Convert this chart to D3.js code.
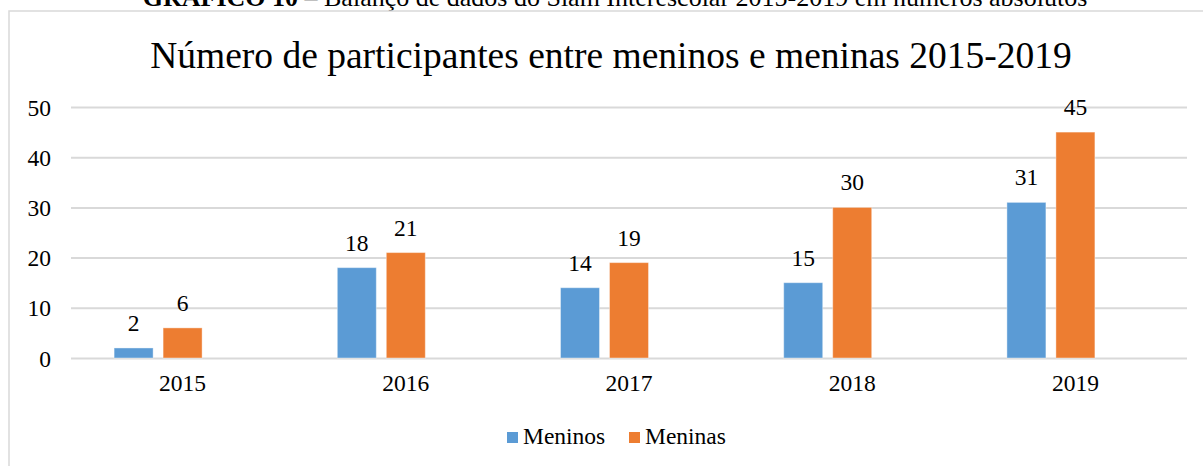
<!DOCTYPE html>
<html>
<head>
<meta charset="utf-8">
<script src="https://cdn.jsdelivr.net/npm/d3@7"></script>
<style>
  html, body { margin: 0; padding: 0; background: #fff; }
</style>
</head>
<body>
<div id="chart"></div>
<script>
const years = ['2015', '2016', '2017', '2018', '2019'];
const meninos = [2, 18, 14, 15, 31];
const meninas = [6, 21, 19, 30, 45];
const yTicks = [0, 10, 20, 30, 40, 50];
const seriesNames = ['Meninos', 'Meninas'];
const seriesColors = ['#5B9BD5', '#ED7D31'];

const FONT = "'Times New Roman', 'Liberation Serif', Times, serif";
const width = 1203;
const height = 466;
const margin = { left: 71, right: 16, top: 107, bot: 108 };
const innerW = width - margin.left - margin.right;
const innerH = height - margin.top - margin.bot;

const svg = d3.select('#chart')
  .append('svg')
  .attr('width', width)
  .attr('height', height)
  .attr('font-family', FONT);

// caption of the page, cut off at the top
const caption = svg.append('text')
  .attr('x', 615)
  .attr('y', 6)
  .attr('text-anchor', 'middle')
  .attr('font-size', 26);
caption.append('tspan').attr('font-weight', 'bold').text('GRÁFICO 10');
caption.append('tspan').text(' – Balanço de dados do Slam Interescolar 2015-2019 em números absolutos');

// chart frame
svg.append('rect')
  .attr('x', 9)
  .attr('y', 11)
  .attr('width', width)
  .attr('height', height)
  .attr('fill', 'none')
  .attr('stroke', '#d9d9d9')
  .attr('stroke-width', 1.5);

svg.append('text')
  .attr('x', 611)
  .attr('y', 68)
  .attr('text-anchor', 'middle')
  .attr('font-size', 37.5)
  .text('Número de participantes entre meninos e meninas 2015-2019');

const g = svg.append('g')
  .attr('transform', `translate(${margin.left}, ${margin.top})`);

const x0 = d3.scaleBand()
  .domain(years)
  .range([0, innerW]);

// third slot is empty, like the source chart
const x1 = d3.scaleBand()
  .domain(['Meninos', 'Meninas', '_'])
  .range([0, x0.bandwidth()])
  .paddingInner(0.204)
  .paddingOuter(0.88);

const y = d3.scaleLinear()
  .domain([0, 50])
  .range([innerH, 0]);

const yAxis = d3.axisLeft(y)
  .tickValues(yTicks)
  .tickSize(-innerW)
  .tickPadding(20);

g.append('g')
  .attr('class', 'axis y')
  .call(yAxis)
  .attr('font-family', FONT)
  .attr('font-size', 23.5)
  .call((a) => a.select('.domain').remove())
  .call((a) => a.selectAll('line').attr('stroke', '#d9d9d9').attr('stroke-width', 2))
  .call((a) => a.selectAll('text').attr('fill', '#000').attr('dy', '0.34em'));

const xAxis = d3.axisBottom(x0).tickSize(0).tickPadding(20);

g.append('g')
  .attr('class', 'axis x')
  .attr('transform', `translate(0, ${innerH})`)
  .call(xAxis)
  .attr('font-family', FONT)
  .attr('font-size', 23.5)
  .call((a) => a.select('.domain').remove())
  .call((a) => a.selectAll('text').attr('fill', '#000').attr('dy', '0.55em'));

const rows = years.map((yr, i) => ({
  year: yr,
  values: [
    { key: 'Meninos', value: meninos[i], color: seriesColors[0] },
    { key: 'Meninas', value: meninas[i], color: seriesColors[1] }
  ]
}));

const groups = g.selectAll('g.year')
  .data(rows)
  .enter()
  .append('g')
  .attr('class', 'year')
  .attr('transform', (d) => `translate(${x0(d.year)}, 0)`);

groups.selectAll('rect')
  .data((d) => d.values)
  .enter()
  .append('rect')
  .attr('x', (d) => x1(d.key))
  .attr('y', (d) => y(d.value))
  .attr('width', x1.bandwidth())
  .attr('height', (d) => innerH - y(d.value))
  .attr('fill', (d) => d.color)
  .attr('stroke', '#fff')
  .attr('stroke-opacity', 0.4)
  .attr('stroke-width', 1);

groups.selectAll('text.val')
  .data((d) => d.values)
  .enter()
  .append('text')
  .attr('class', 'val')
  .attr('x', (d) => x1(d.key) + x1.bandwidth() / 2)
  .attr('y', (d) => y(d.value) - 17)
  .attr('text-anchor', 'middle')
  .attr('font-size', 23.5)
  .text((d) => d.value);

// legend
const legend = svg.append('g').attr('class', 'legend');
const legendX = [507, 629];
seriesNames.forEach((name, i) => {
  legend.append('rect')
    .attr('x', legendX[i])
    .attr('y', 432)
    .attr('width', 11)
    .attr('height', 11)
    .attr('fill', seriesColors[i]);
  legend.append('text')
    .attr('x', legendX[i] + 16)
    .attr('y', 444)
    .attr('font-size', 23.5)
    .text(name);
});
</script>
</body>
</html>
